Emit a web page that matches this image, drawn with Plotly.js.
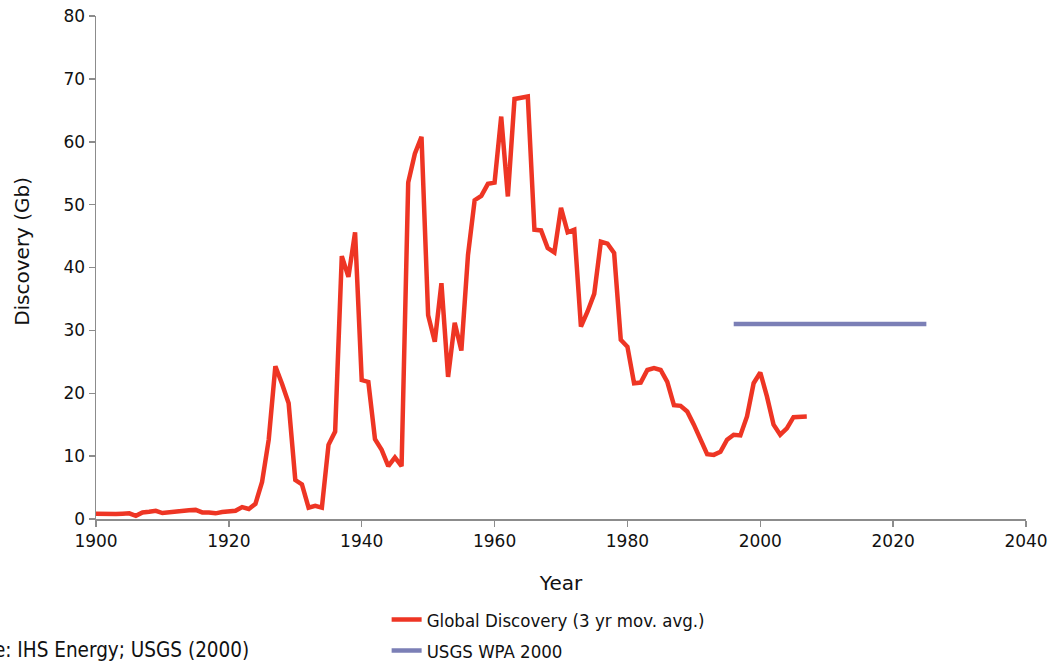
<!DOCTYPE html>
<html>
<head>
<meta charset="utf-8">
<script src="https://cdn.plot.ly/plotly-3.0.1.min.js"></script>
<style>html,body{margin:0;padding:0;background:#fff;}#chart{width:1057px;height:663px;}</style>
</head>
<body>
<div id="chart"></div>
<script>
var years = [];
for (var y = 1900; y <= 2007; y++) years.push(y);
var discovery = [
  0.85, 0.8, 0.7, 0.8, 0.85, 0.9, 0.5, 1.05, 1.15, 1.3,
  0.95, 1.1, 1.1, 1.4, 1.4, 1.45, 1.05, 1.05, 0.9, 1.1,
  1.2, 1.3, 1.9, 1.6, 2.4, 5.9, 12.6, 24.3, 21.5, 18.4,
  6.2, 5.5, 1.8, 2.1, 1.8, 11.8, 13.9, 41.8, 38.5, 45.6,
  22.1, 21.8, 12.7, 11.0, 8.4, 9.8, 8.4, 53.5, 58.1, 60.8,
  32.4, 28.2, 37.5, 22.6, 31.2, 26.8, 42.0, 50.7, 51.4, 53.3,
  53.5, 64.0, 51.3, 66.8, 67.0, 67.2, 46.0, 45.9, 43.1, 42.4,
  49.5, 45.6, 46.0, 30.6, 33.0, 35.8, 44.1, 43.8, 42.3, 28.5,
  27.4, 21.6, 21.7, 23.7, 24.0, 23.7, 21.8, 18.1, 18.0, 17.1,
  15.0, 12.8, 10.3, 10.2, 10.7, 12.6, 13.4, 13.3, 16.3, 21.6,
  23.3, 19.5, 15.0, 13.4, 14.4, 16.2, 16.3, 16.3
];
var usgsYears = [1996, 2025];
var usgsValues = [31, 31];
var xTicks = [1900, 1920, 1940, 1960, 1980, 2000, 2020, 2040];
var yTicks = [0, 10, 20, 30, 40, 50, 60, 70, 80];

var fontFam = 'DejaVu Sans, Verdana, sans-serif';
var condFam = 'DejaVu Sans Condensed, Liberation Sans Narrow, sans-serif';
var traces = [
  {x: years, y: discovery, type: 'scatter', mode: 'lines',
   name: 'Global Discovery (3 yr mov. avg.)',
   line: {color: '#ee3524', width: 4.5}, legend: 'legend'},
  {x: usgsYears, y: usgsValues, type: 'scatter', mode: 'lines',
   name: 'USGS WPA 2000',
   line: {color: '#7b7fb6', width: 4.5}, legend: 'legend2'}
];
var axisCommon = {
  showgrid: false, zeroline: false, showline: true,
  linecolor: '#8c8c8c', linewidth: 1.5,
  ticks: 'outside', ticklen: 6, tickcolor: '#8c8c8c', tickwidth: 1.5,
  tickfont: {family: fontFam, size: 17, color: '#111'}
};
var layout = {
  width: 1057, height: 663,
  margin: {l: 96, r: 31, t: 16, b: 144, autoexpand: false},
  paper_bgcolor: '#fff', plot_bgcolor: '#fff',
  xaxis: Object.assign({}, axisCommon, {
    range: [1900, 2040], tickvals: xTicks, ticktext: xTicks.map(String),
    automargin: false,
    title: {text: 'Year', font: {family: fontFam, size: 20, color: '#111'}, standoff: 26}
  }),
  yaxis: Object.assign({}, axisCommon, {
    range: [0, 80], tickvals: yTicks, ticktext: yTicks.map(String),
    automargin: false
  }),
  showlegend: true,
  legend: {x: 0.3125, xanchor: 'left', y: -0.163, yanchor: 'top',
    font: {family: condFam, size: 18.5, color: '#111'}, bgcolor: 'rgba(0,0,0,0)'},
  legend2: {x: 0.3125, xanchor: 'left', y: -0.2246, yanchor: 'top',
    font: {family: condFam, size: 18.5, color: '#111'}, bgcolor: 'rgba(0,0,0,0)'},
  annotations: [
    {text: 'Discovery (Gb)', textangle: -90, xref: 'paper', yref: 'paper',
     x: -0.0796, y: 0.533, xanchor: 'center', yanchor: 'middle', showarrow: false,
     font: {family: fontFam, size: 20, color: '#111'}},
    {text: 'Source: IHS Energy; USGS (2000)', xref: 'paper', yref: 'paper',
     x: 0.1662, y: -0.2604, xanchor: 'right', yanchor: 'middle', showarrow: false,
     font: {family: condFam, size: 20.5, color: '#111'}}
  ]
};
Plotly.newPlot('chart', traces, layout, {displayModeBar: false, staticPlot: true});
</script>
</body>
</html>
